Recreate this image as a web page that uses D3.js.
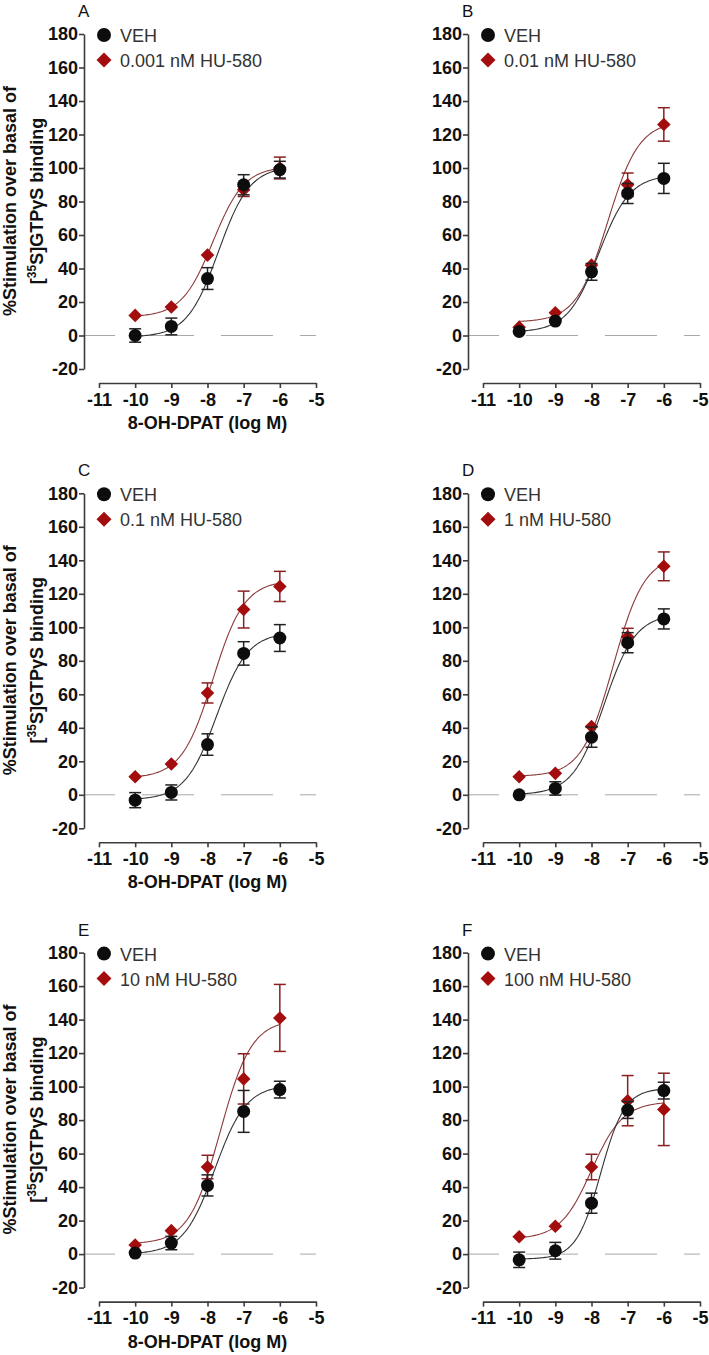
<!DOCTYPE html>
<html>
<head>
<meta charset="utf-8">
<script src="https://cdn.jsdelivr.net/npm/d3@7"></script>
<style>
  body { margin: 0; background: #fff; }
  svg text { font-family: "Liberation Sans", Arial, sans-serif; }
</style>
</head>
<body>
<svg id="chart" width="709" height="1355"></svg>
<script>
// log dose of 8-OH-DPAT
var logDose = [-10, -9, -8, -7, -6];

var panelLetters = ["A", "B", "C", "D", "E", "F"];
var huLabels = ["0.001 nM HU-580", "0.01 nM HU-580", "0.1 nM HU-580",
                "1 nM HU-580", "10 nM HU-580", "100 nM HU-580"];

// VEH series (mean, sem) per panel
var vehMean = [
  [0, 5.4, 34, 90, 99],
  [2.4, 8.6, 38, 84.8, 93.8],
  [-3.2, 1.4, 30, 84.4, 93.6],
  [0, 3.8, 34.4, 90.8, 105],
  [0.6, 6.6, 41, 85.2, 98.2],
  [-3.4, 2, 30.4, 86, 97.6]
];
var vehErr = [
  [4, 5, 6.5, 6, 5],
  [2, 2, 5, 6, 9],
  [4.5, 4.5, 6.4, 7, 8],
  [1.5, 4, 6, 6, 6],
  [1.5, 4, 6.3, 12.5, 5],
  [4.6, 5, 6, 5, 5]
];

// HU-580 series (mean, sem) per panel
var huMean = [
  [12, 17, 48, 87, 100],
  [5, 13.6, 42, 90, 126],
  [10.8, 18.4, 60.8, 110.6, 124.4],
  [10.8, 12.8, 40.8, 94.4, 136.4],
  [5.4, 14, 52, 104.6, 141],
  [10.4, 16.6, 52, 91.6, 86.4]
];
var huErr = [
  [1.5, 1.5, 2, 4, 6.5],
  [1.5, 1.5, 3, 7, 10],
  [1.5, 2, 6, 11, 9],
  [1.5, 1.5, 2, 5, 8.6],
  [1.5, 1.5, 7, 15, 20],
  [1.5, 1.5, 7.6, 15, 21.6]
];

// fitted sigmoid parameters: [bottom, top, logEC50, hill]
var vehFit = [
  [-1, 101, -7.7, 1],
  [2, 96, -7.8, 1],
  [-3, 97, -7.75, 1],
  [0, 108, -7.65, 1],
  [0, 101, -7.8, 1],
  [-3, 99, -7.75, 1.3]
];
var huFit = [
  [11, 101, -7.85, 1],
  [8, 128, -7.55, 1],
  [10, 128, -7.85, 1],
  [11, 143, -7.4, 1],
  [6, 140, -7.65, 1],
  [9, 91, -8.0, 1]
];

var yTicks = [-20, 0, 20, 40, 60, 80, 100, 120, 140, 160, 180];
var yTickLabels = ["-20", "0", "20", "40", "60", "80", "100", "120", "140", "160", "180"];
var xTicks = [-11, -10, -9, -8, -7, -6, -5];
var xTickLabels = ["-11", "-10", "-9", "-8", "-7", "-6", "-5"];

var svg = d3.select("#chart");

var axisColor = "#3c3c3c";
var vehColor = "#0d0d0d";
var huColor = "#a30d0d";
var huLine = "#8c3a3a";

function sigmoid(p, x) {
   return p[0] + (p[1] - p[0]) / (1 + Math.pow(10, (p[2] - x) * p[3]));
}

function drawSeries(g, x, y, mean, err, fit, kind) {
   var lineColor = kind == "veh" ? "#333" : huLine;
   var barColor = kind == "veh" ? "#222" : "#8b2020";
   var xs = d3.range(0, 101).map(function(i) { return -10 + i * 0.04; });
   var line = d3.line()
      .x(function(d) { return x(d); })
      .y(function(d) { return y(sigmoid(fit, d)); });
   g.append("path")
      .attr("d", line(xs))
      .attr("fill", "none")
      .attr("stroke", lineColor)
      .attr("stroke-width", 1.1);

   var pts = logDose.map(function(d, i) { return { x: d, m: mean[i], e: err[i] }; });

   // bars hidden by the symbol are not drawn (as in the original software)
   var visible = pts.filter(function(d) { return y(d.m) - y(d.m + d.e) > 6.5; });
   var bars = g.selectAll(".bar-" + kind).data(visible).enter()
      .append("g").attr("class", "bar-" + kind)
      .attr("stroke", barColor).attr("stroke-width", 1.5);
   bars.append("line")
      .attr("x1", function(d) { return x(d.x); }).attr("x2", function(d) { return x(d.x); })
      .attr("y1", function(d) { return y(d.m - d.e); }).attr("y2", function(d) { return y(d.m + d.e); });
   [1, -1].forEach(function(s) {
      bars.append("line")
         .attr("x1", function(d) { return x(d.x) - 6; }).attr("x2", function(d) { return x(d.x) + 6; })
         .attr("y1", function(d) { return y(d.m + s * d.e); }).attr("y2", function(d) { return y(d.m + s * d.e); });
   });

   if (kind == "veh") {
      g.selectAll(".pt-veh").data(pts).enter()
         .append("circle").attr("class", "pt-veh")
         .attr("cx", function(d) { return x(d.x); })
         .attr("cy", function(d) { return y(d.m); })
         .attr("r", 6.5)
         .attr("fill", vehColor);
   } else {
      var diamond = d3.symbol().type(d3.symbolSquare).size(92);
      g.selectAll(".pt-hu").data(pts).enter()
         .append("path").attr("class", "pt-hu")
         .attr("d", diamond)
         .attr("transform", function(d) { return "translate(" + x(d.x) + "," + y(d.m) + ") rotate(45)"; })
         .attr("fill", huColor);
   }
}

function drawPanel(i) {
   var col = i % 2, row = Math.floor(i / 2);
   var axisX = col ? 468 : 84;
   var top = 34 + row * 459.3;

   var y = d3.scaleLinear().domain([-20, 180]).range([top + 335, top]);
   var x = d3.scaleLinear().domain([-11, -5]).range([axisX + 15, axisX + 232]);
   var xAxisY = top + 349;

   var g = svg.append("g").attr("class", "panel");

   // zero line
   g.append("line")
      .attr("x1", axisX).attr("x2", x(-5))
      .attr("y1", y(0)).attr("y2", y(0))
      .attr("stroke", "#a8a8a8")
      .attr("stroke-width", 1)
      .attr("stroke-dasharray", "52,27")
      .attr("stroke-dashoffset", 21);

   // y axis
   var ya = g.append("g")
      .attr("transform", "translate(" + axisX + ",0)")
      .call(d3.axisLeft(y).tickValues(yTicks).tickSize(5).tickSizeOuter(0).tickPadding(1)
         .tickFormat(function(d, k) { return yTickLabels[k]; }));
   // x axis
   var xa = g.append("g")
      .attr("transform", "translate(0," + xAxisY + ")")
      .call(d3.axisBottom(x).tickValues(xTicks).tickSize(5).tickSizeOuter(0).tickPadding(5)
         .tickFormat(function(d, k) { return xTickLabels[k]; }));
   [ya, xa].forEach(function(a) {
      a.select(".domain").attr("stroke", axisColor).attr("stroke-width", 1.6);
      a.selectAll(".tick line").attr("stroke", axisColor).attr("stroke-width", 1.6);
      a.selectAll(".tick text")
         .attr("fill", "#111")
         .style("font-size", "18px")
         .style("font-weight", "bold")
         .style("font-family", "'Liberation Sans', Arial, sans-serif");
   });

   // HU first, VEH on top
   drawSeries(g, x, y, huMean[i], huErr[i], huFit[i], "hu");
   drawSeries(g, x, y, vehMean[i], vehErr[i], vehFit[i], "veh");

   // panel letter
   g.append("text")
      .attr("x", axisX - 6).attr("y", top - 17)
      .attr("fill", "#111")
      .style("font-size", "17px")
      .text(panelLetters[i]);

   // legend
   g.append("circle")
      .attr("cx", axisX + 20).attr("cy", top + 1)
      .attr("r", 7).attr("fill", vehColor);
   g.append("text")
      .attr("x", axisX + 36).attr("y", top + 8)
      .attr("fill", "#333").style("font-size", "18px")
      .text("VEH");
   g.append("path")
      .attr("d", d3.symbol().type(d3.symbolSquare).size(112))
      .attr("transform", "translate(" + (axisX + 20) + "," + (top + 26) + ") rotate(45)")
      .attr("fill", huColor);
   g.append("text")
      .attr("x", axisX + 36).attr("y", top + 33)
      .attr("fill", "#333").style("font-size", "18px")
      .text(huLabels[i]);

   if (col == 0) {
      // x label
      g.append("text")
         .attr("x", (x(-11) + x(-5)) / 2).attr("y", xAxisY + 46)
         .attr("text-anchor", "middle")
         .attr("fill", "#111")
         .style("font-size", "18px").style("font-weight", "bold")
         .text("8-OH-DPAT (log M)");

      // y label, two lines
      var yc = top + 167;
      g.append("text")
         .attr("transform", "translate(16," + yc + ") rotate(-90)")
         .attr("text-anchor", "middle")
         .attr("fill", "#111")
         .style("font-size", "18px").style("font-weight", "bold")
         .text("%Stimulation over basal of");
      var t2 = g.append("text")
         .attr("transform", "translate(43," + yc + ") rotate(-90)")
         .attr("text-anchor", "middle")
         .attr("fill", "#111")
         .style("font-size", "18px").style("font-weight", "bold");
      t2.append("tspan").text("[");
      t2.append("tspan").attr("dy", -7).style("font-size", "12px").text("35");
      t2.append("tspan").attr("dy", 7).text("S]GTPγS binding");
   }
}

for (var i = 0; i < 6; i++) {
   drawPanel(i);
}
</script>
</body>
</html>
